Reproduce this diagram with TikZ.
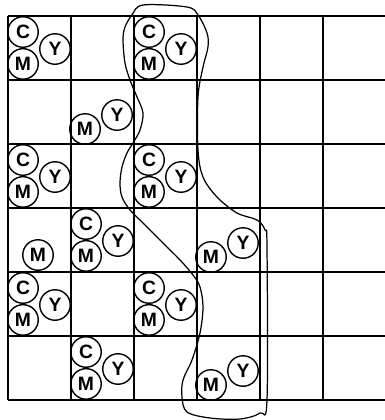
\documentclass[tikz,border=0pt]{standalone}
\usepackage{fontspec}
\setmainfont{Liberation Sans}
\usetikzlibrary{positioning}
\tikzset{
  gridline/.style={draw=black, line width=0.8pt},
  ink/.style={circle, draw=black, line width=0.8pt, minimum size=6.1mm, inner sep=0pt, font=\bfseries\fontsize{11}{12}\selectfont},
  outline/.style={draw=black, line width=0.7pt}
}
% cell with cyan, magenta and yellow dots (column, row)
\newcommand{\cmycell}[2]{%
  \begin{scope}[shift={({8+63*(#1-1)},{16+64*(#2-1)})}]
    \node[ink] (c-#1-#2) at (15,16) {C};
    \node[ink, below=0pt of c-#1-#2] (m-#1-#2) {M};
    \node[ink] (y-#1-#2) at (47,33) {Y};
  \end{scope}}
% cell with magenta and yellow dots only
\newcommand{\mycell}[2]{%
  \begin{scope}[shift={({8+63*(#1-1)},{16+64*(#2-1)})}]
    \node[ink] (m-#1-#2) at (14,49) {M};
    \node[ink] (y-#1-#2) at (46,35) {Y};
  \end{scope}}

\begin{document}
\begin{tikzpicture}[x=0.2mm, y=-0.2mm]
    \useasboundingbox (0,0) rectangle (385,420);

    % the 6 x 6 screen
    \foreach \i in {0,...,6} {
      \draw[gridline] ({8+63*\i},16) -- ({8+63*\i},400);
      \draw[gridline] (8,{16+64*\i}) -- (386,{16+64*\i});
    }

    \foreach \c/\r in {1/1, 3/1, 1/3, 3/3, 2/4, 1/5, 3/5, 2/6}
      \cmycell{\c}{\r};
    \foreach \c/\r in {2/2, 4/4, 4/6}
      \mycell{\c}{\r};
    \node[ink] (m-1-4) at (38,255) {M};

    % the lasso
    \draw[outline] plot[smooth cycle, tension=0.55] coordinates {
      (143,5) (187,7) (198,15) (207,33) (208,47) (203,67) (198,97)
      (198,150) (203,177) (217,197) (237,213) (257,220) (265,230)
      (267,247) (267,400) (260,413) (240,419) (210,418) (187,412)
      (182,397) (183,380) (192,360) (200,333) (203,307) (200,287)
      (193,275) (180,260) (163,243) (143,223) (130,210) (122,197)
      (120,183) (122,167) (127,153) (133,143) (140,130) (143,113)
      (137,97) (130,80) (125,63) (123,40) (125,27) (132,15)};
  \end{tikzpicture}
\end{document}
